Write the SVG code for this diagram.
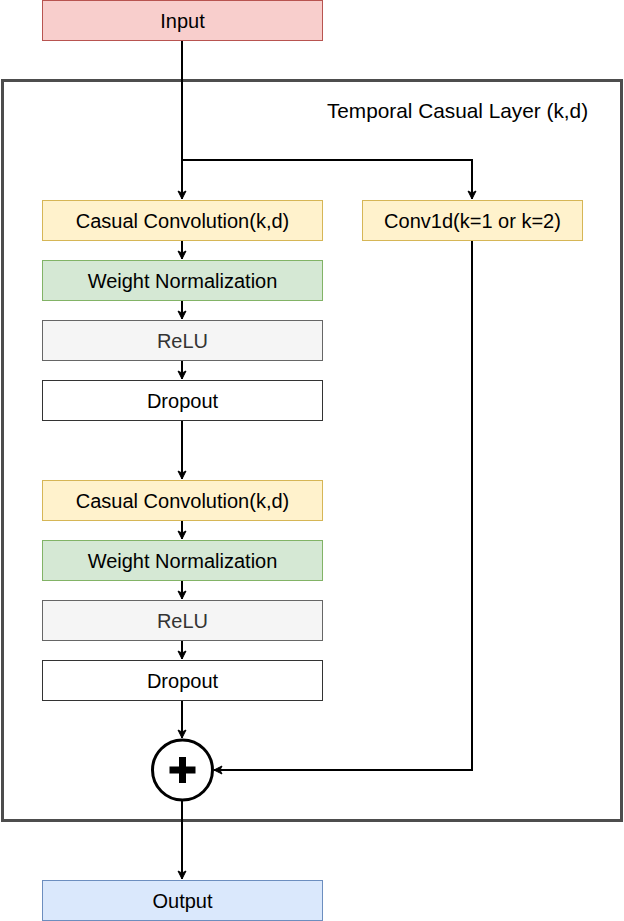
<svg xmlns="http://www.w3.org/2000/svg" width="624" height="921" viewBox="0 0 624 921">
<style>
text{font-family:"Liberation Sans",Arial,sans-serif;font-size:20px;text-anchor:middle;fill:#000}
.red{fill:#f8cecc;stroke:#b85450}
.yel{fill:#fff2cc;stroke:#d6b656}
.grn{fill:#d5e8d4;stroke:#82b366}
.gry{fill:#f5f5f5;stroke:#666666}
.wht{fill:#ffffff;stroke:#333333}
.blu{fill:#dae8fc;stroke:#6c8ebf}
.edge{fill:none;stroke:#000;stroke-width:2;marker-end:url(#arr)}
</style>
<defs>
<marker id="arr" markerWidth="10" markerHeight="10" viewBox="0 0 10 10" refX="9" refY="5" orient="auto" markerUnits="userSpaceOnUse">
<path d="M1,1 L9,5 L1,9 L3,5 Z" fill="#000" stroke="#000" stroke-width="1"/>
</marker>
</defs>
<rect width="624" height="921" fill="#fff"/>
<g id="frame">
<rect x="2.5" y="80.5" width="619" height="740" fill="none" stroke="#4d4d4d" stroke-width="3"/>
<text x="457.5" y="117.5" style="font-size:20.8px">Temporal Casual Layer (k,d)</text>
</g>
<g id="connectors">
<path class="edge" d="M182,41 V199"/>
<path class="edge" d="M182,160 H472 V199"/>
<path class="edge" d="M182,241 V259"/>
<path class="edge" d="M182,301 V319"/>
<path class="edge" d="M182,361 V379"/>
<path class="edge" d="M182,421 V479"/>
<path class="edge" d="M182,521 V539"/>
<path class="edge" d="M182,581 V599"/>
<path class="edge" d="M182,641 V659"/>
<path class="edge" d="M182,701 V738"/>
<path class="edge" d="M472,241 V770 H214"/>
<path class="edge" d="M182,801 V879"/>
</g>
<g id="input"><rect class="red" x="42.5" y="0.5" width="280" height="40"/><text x="182.5" y="27.5">Input</text></g>
<g id="conv1"><rect class="yel" x="42.5" y="200.5" width="280" height="40"/><text x="182.5" y="227.5">Casual Convolution(k,d)</text></g>
<g id="wn1"><rect class="grn" x="42.5" y="260.5" width="280" height="40"/><text x="182.5" y="287.5">Weight Normalization</text></g>
<g id="relu1"><rect class="gry" x="42.5" y="320.5" width="280" height="40"/><text x="182.5" y="347.5" style="fill:#333333">ReLU</text></g>
<g id="drop1"><rect class="wht" x="42.5" y="380.5" width="280" height="40"/><text x="182.5" y="407.5">Dropout</text></g>
<g id="conv2"><rect class="yel" x="42.5" y="480.5" width="280" height="40"/><text x="182.5" y="507.5">Casual Convolution(k,d)</text></g>
<g id="wn2"><rect class="grn" x="42.5" y="540.5" width="280" height="40"/><text x="182.5" y="567.5">Weight Normalization</text></g>
<g id="relu2"><rect class="gry" x="42.5" y="600.5" width="280" height="40"/><text x="182.5" y="627.5" style="fill:#333333">ReLU</text></g>
<g id="drop2"><rect class="wht" x="42.5" y="660.5" width="280" height="40"/><text x="182.5" y="687.5">Dropout</text></g>
<g id="conv1d"><rect class="yel" x="362.5" y="200.5" width="220" height="40"/><text x="472.5" y="227.5">Conv1d(k=1 or k=2)</text></g>
<g id="sum">
<circle cx="182.5" cy="770" r="30" fill="#fff" stroke="#000" stroke-width="3"/>
<rect x="169.5" y="766.5" width="26" height="7" fill="#000"/>
<rect x="179" y="757" width="7" height="26" fill="#000"/>
</g>
<g id="output"><rect class="blu" x="42.5" y="880.5" width="280" height="40"/><text x="182.5" y="907.5">Output</text></g>
</svg>
